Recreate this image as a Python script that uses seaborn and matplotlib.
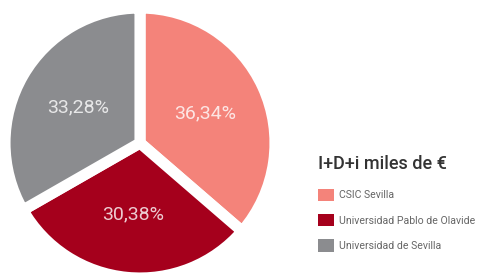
import matplotlib
matplotlib.use("Agg")
import matplotlib.pyplot as plt
import seaborn as sns

# data
entities = ["CSIC Sevilla", "Universidad Pablo de Olavide", "Universidad de Sevilla"]
shares = [36.34, 30.38, 33.28]
share_labels = ["36,34%", "30,38%", "33,28%"]
colours = ["#f4837a", "#a5001c", "#8b8c8f"]
legend_title = "I+D+i miles de €"

sns.set_theme(style="white")
plt.rcParams["font.family"] = ["Roboto", "DejaVu Sans"]
palette = sns.color_palette(colours)

fig = plt.figure(figsize=(4.8, 2.73), dpi=100)
fig.patch.set_facecolor("white")

# pie centred at about (140, 143) px, radius ~135 px
r = 135
ax = fig.add_axes([(140 - r) / 480, (273 - 143 - r) / 273, 2 * r / 480, 2 * r / 273])
wedges, texts = ax.pie(
    shares,
    colors=palette,
    startangle=90,
    counterclock=False,
    labels=share_labels,
    labeldistance=0.53,
    wedgeprops=dict(edgecolor="white", linewidth=8),
    textprops=dict(color="white", alpha=0.8, fontsize=14),
)
for t in texts:
    t.set_ha("center")
    t.set_va("center")
ax.set_aspect("equal")
ax.set_xlim(-1, 1)
ax.set_ylim(-1, 1)

leg = fig.legend(
    wedges,
    entities,
    title=legend_title,
    loc="upper left",
    bbox_to_anchor=(314 / 480, 1 - 151 / 273),
    frameon=False,
    fontsize=7.6,
    title_fontsize=13,
    handlelength=1.45,
    handleheight=1.45,
    labelspacing=1.22,
    handletextpad=0.55,
    borderaxespad=0,
)
leg._legend_box.align = "left"
leg._legend_box.sep = 11
for h in leg.legend_handles:
    h.set_linewidth(0)
for t in leg.get_texts():
    t.set_color("#666666")
leg.get_title().set_color("#333333")
leg.get_title().set_fontweight("medium")

fig.savefig("out.png", dpi=100, facecolor="white")
